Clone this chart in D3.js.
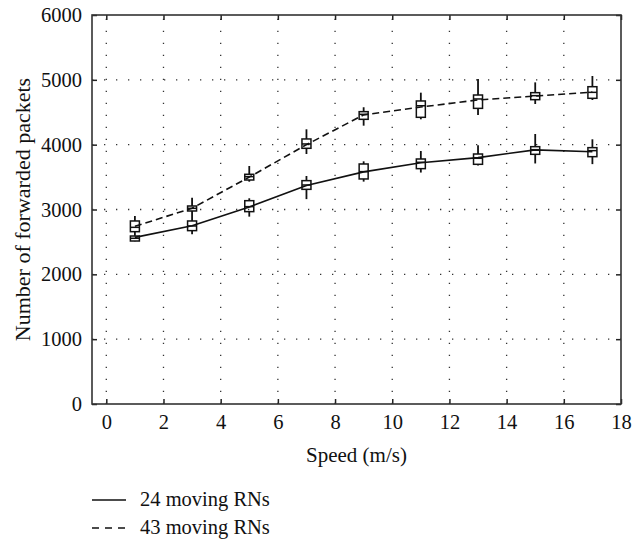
<!DOCTYPE html>
<html>
<head>
<meta charset="utf-8">
<script src="https://cdn.jsdelivr.net/npm/d3@7"></script>
<style>
  html, body { margin: 0; padding: 0; background: #fff; }
  svg { display: block; }
  text { font-family: "Liberation Serif", "DejaVu Serif", serif; fill: #111; }
</style>
</head>
<body>
<svg id="chart" width="633" height="542"></svg>
<script>
// ---- Data ----
const speeds = [1, 3, 5, 7, 9, 11, 13, 15, 17];
const seriesNames = ["24 moving RNs", "43 moving RNs"];
// line (mean) values
const mean24 = [2570, 2750, 3040, 3370, 3580, 3720, 3800, 3920, 3890];
const mean43 = [2740, 3020, 3500, 4000, 4460, 4580, 4690, 4750, 4810];
// box plot stats: whisker low, q1, median, q3, whisker high
const lo24  = [2510, 2620, 2890, 3160, 3430, 3570, 3680, 3710, 3700];
const q1_24 = [2514, 2674, 2967, 3311, 3471, 3630, 3697, 3851, 3815];
const md24  = [2556, 2746, 3044, 3378, 3584, 3728, 3790, 3923, 3908];
const q3_24 = [2591, 2823, 3136, 3445, 3702, 3779, 3856, 3969, 3954];
const hi24  = [2600, 2900, 3173, 3517, 3743, 3902, 3990, 4165, 4083];
const lo43  = [2600, 2900, 3429, 3856, 4293, 4391, 4458, 4627, 4689];
const q1_43 = [2658, 2977, 3455, 3944, 4391, 4422, 4560, 4694, 4715];
const md43  = [2725, 3018, 3507, 4011, 4468, 4600, 4705, 4756, 4807];
const q3_43 = [2823, 3054, 3543, 4088, 4509, 4674, 4766, 4802, 4894];
const hi43  = [2900, 3183, 3671, 4237, 4577, 4802, 5013, 4961, 5059];
const xTicks = [0, 2, 4, 6, 8, 10, 12, 14, 16, 18];
const yTicks = [0, 1000, 2000, 3000, 4000, 5000, 6000];
const xTitle = "Speed (m/s)";
const yTitle = "Number of forwarded packets";

// ---- Layout ----
const L = 92, R = 621, T = 15, B = 404;
const svg = d3.select("#chart");
const x = d3.scaleLinear().domain([-0.5, 18]).range([L, R]);
const y = d3.scaleLinear().domain([0, 6000]).range([B, T]);

// grid (dotted)
const grid = svg.append("g").attr("stroke", "#333").attr("stroke-width", 1.3)
  .attr("stroke-dasharray", "1.3,10.7");
grid.selectAll(".gx").data(xTicks.filter(d => d < 18)).join("line")
  .attr("x1", d => x(d)).attr("x2", d => x(d)).attr("y1", B).attr("y2", T);
grid.selectAll(".gy").data(yTicks.filter(d => d > 0 && d < 6000)).join("line")
  .attr("x1", L).attr("x2", R).attr("y1", d => y(d)).attr("y2", d => y(d));

// axes with inward ticks
const tickLen = 5;
const axB = svg.append("g").attr("transform", `translate(0,${B})`)
  .call(d3.axisBottom(x).tickValues(xTicks).tickSize(-tickLen).tickPadding(10).tickFormat(d3.format("d")));
const axT = svg.append("g").attr("transform", `translate(0,${T})`)
  .call(d3.axisTop(x).tickValues(xTicks).tickSize(-tickLen).tickFormat(""));
const axL = svg.append("g").attr("transform", `translate(${L},0)`)
  .call(d3.axisLeft(y).tickValues(yTicks).tickSize(-tickLen).tickPadding(10).tickFormat(d3.format("d")));
const axR = svg.append("g").attr("transform", `translate(${R},0)`)
  .call(d3.axisRight(y).tickValues(yTicks).tickSize(-tickLen).tickFormat(""));
[axB, axT, axL, axR].forEach(a => {
  a.select(".domain").remove();
  a.selectAll(".tick line").attr("stroke", "#222").attr("stroke-width", 1.5);
  a.selectAll("text").attr("font-size", 20.5).attr("fill", "#111")
    .style("font-family", '"Liberation Serif", serif');
});
axB.selectAll("text").attr("dy", "0.71em");

// frame
svg.append("rect").attr("x", L).attr("y", T).attr("width", R - L).attr("height", B - T)
  .attr("fill", "none").attr("stroke", "#333").attr("stroke-width", 1.6);

// lines
const line = d3.line().x((d, i) => x(speeds[i])).y(d => y(d));
svg.append("path").datum(mean24).attr("d", line).attr("fill", "none")
  .attr("stroke", "#111").attr("stroke-width", 1.6);
svg.append("path").datum(mean43).attr("d", line).attr("fill", "none")
  .attr("stroke", "#111").attr("stroke-width", 1.6).attr("stroke-dasharray", "7,4");

// box plots
function boxes(lo, q1, md, q3, hi) {
  const g = svg.append("g").attr("stroke", "#111").attr("fill", "none");
  const bw = 9;
  speeds.forEach((s, i) => {
    const cx = x(s);
    g.append("line").attr("x1", cx).attr("x2", cx).attr("y1", y(hi[i])).attr("y2", y(q3[i])).attr("stroke-width", 1.8);
    g.append("line").attr("x1", cx).attr("x2", cx).attr("y1", y(q1[i])).attr("y2", y(lo[i])).attr("stroke-width", 1.8);
    g.append("rect").attr("x", cx - bw / 2).attr("width", bw)
      .attr("y", y(q3[i])).attr("height", Math.max(1, y(q1[i]) - y(q3[i])))
      .attr("stroke-width", 1.5);
    g.append("line").attr("x1", cx - bw / 2).attr("x2", cx + bw / 2)
      .attr("y1", y(md[i])).attr("y2", y(md[i])).attr("stroke-width", 1.5);
  });
}
boxes(lo24, q1_24, md24, q3_24, hi24);
boxes(lo43, q1_43, md43, q3_43, hi43);

// axis titles
svg.append("text").attr("x", (L + R) / 2).attr("y", 462).attr("text-anchor", "middle")
  .attr("font-size", 21).text(xTitle);
svg.append("text").attr("transform", `translate(30,${(T + B) / 2}) rotate(-90)`)
  .attr("text-anchor", "middle").attr("font-size", 22).text(yTitle);

// legend
const leg = svg.append("g");
seriesNames.forEach((name, i) => {
  const ly = 500 + i * 28;
  leg.append("line").attr("x1", 92).attr("x2", 126).attr("y1", ly).attr("y2", ly)
    .attr("stroke", "#111").attr("stroke-width", 1.4)
    .attr("stroke-dasharray", i === 1 ? "7,6" : null);
  leg.append("text").attr("x", 140).attr("y", ly + 6).attr("font-size", 20.5).text(name);
});
</script>
</body>
</html>
